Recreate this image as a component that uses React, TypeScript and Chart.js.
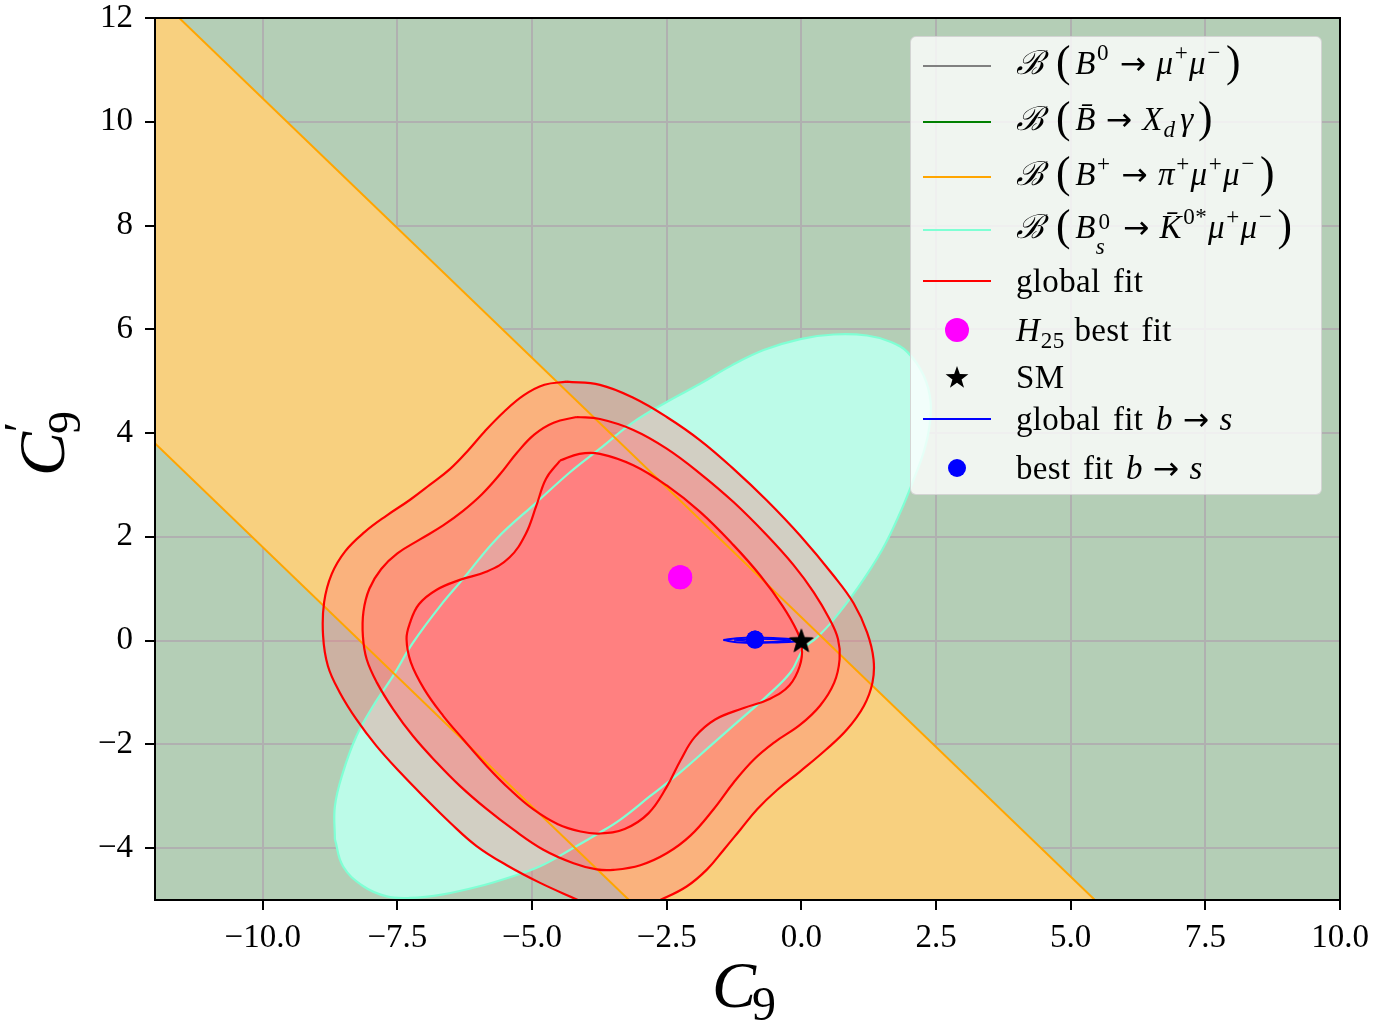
import React, { useEffect, useRef } from "react";
import { Chart, registerables } from "chart.js";

Chart.register(...registerables);

// ---- axes -------------------------------------------------------------
const X_MIN = -12;
const X_MAX = 10;
const Y_MIN = -5;
const Y_MAX = 12;
const xTickValues = [-10, -7.5, -5, -2.5, 0, 2.5, 5, 7.5, 10];
const yTickValues = [-4, -2, 0, 2, 4, 6, 8, 10, 12];

// ---- B+ -> pi+ mu+ mu- allowed band (straight edges, clipped by the axes)
const bandUpperEdge: [number, number][] = [[-13, 13.45], [6, -5.55]];
const bandLowerEdge: [number, number][] = [[-2.5, -5.7], [-21.7, 13.5]];

// ---- Bs0 -> K0* mu+ mu- allowed region ---------------------------------
const bsKmumuRegion: [number, number][] = [
  [-8.66, -3.83], [-8.66, -3.19], [-8.51, -2.54], [-8.26, -1.84], [-7.95, -1.26],
  [-7.58, -0.68], [-7.21, -0.04], [-6.65, 0.74], [-6.28, 1.19], [-5.66, 1.96],
  [-4.91, 2.67], [-4.29, 3.25], [-3.74, 3.7], [-3.12, 4.21], [-2.5, 4.6],
  [-1.88, 4.95], [-1.3, 5.3], [-0.7, 5.6], [-0.02, 5.81], [0.6, 5.9],
  [1.22, 5.88], [1.65, 5.76], [1.97, 5.56], [2.27, 5.11], [2.4, 4.6],
  [2.37, 4.08], [2.27, 3.63], [2.09, 3.12], [1.84, 2.48], [1.5, 1.75],
  [1.05, 1.02], [0.58, 0.38], [0.29, 0.06], [0.04, -0.16], [-0.2, -0.61],
  [-0.64, -1.07], [-1.13, -1.52], [-1.69, -2.03], [-2.25, -2.54], [-2.81, -3.0],
  [-3.36, -3.45], [-3.74, -3.7], [-4.29, -4.03], [-4.85, -4.35], [-5.41, -4.56],
  [-6.03, -4.75], [-6.65, -4.89], [-7.27, -4.96], [-7.7, -4.93], [-8.14, -4.73],
  [-8.51, -4.35],
];

// ---- global fit confidence contours (outer, middle, inner) -----------
const globalFitOuter: [number, number][] = [
  [-4.36, 4.99], [-3.74, 4.93], [-3.12, 4.68], [-2.5, 4.31], [-1.88, 3.86],
  [-1.26, 3.31], [-0.64, 2.7], [-0.02, 2.02], [0.6, 1.25], [0.97, 0.72],
  [1.22, 0.16], [1.34, -0.36], [1.32, -0.81], [1.16, -1.26], [0.85, -1.71],
  [0.46, -2.1], [-0.02, -2.52], [-0.45, -2.88], [-0.82, -3.25], [-1.13, -3.64],
  [-1.44, -4.03], [-1.75, -4.41], [-2.13, -4.74], [-2.62, -5.0], [-2.99, -5.16],
  [-3.4, -5.24], [-3.81, -5.16], [-4.17, -4.99], [-4.85, -4.67], [-5.47, -4.33],
  [-6.03, -3.96], [-6.52, -3.51], [-7.02, -3.0], [-7.45, -2.54], [-7.89, -2.03],
  [-8.26, -1.52], [-8.57, -1.0], [-8.79, -0.49], [-8.88, 0.1], [-8.86, 0.74],
  [-8.72, 1.28], [-8.47, 1.72], [-8.11, 2.09], [-7.7, 2.41], [-7.27, 2.71],
  [-6.9, 3.0], [-6.52, 3.31], [-6.2, 3.65], [-5.88, 4.03], [-5.52, 4.41],
  [-5.15, 4.73], [-4.77, 4.93],
];
const globalFitMiddle: [number, number][] = [
  [-4.17, 4.31], [-3.74, 4.27], [-3.12, 4.06], [-2.5, 3.7], [-1.88, 3.22],
  [-1.26, 2.67], [-0.64, 2.03], [-0.14, 1.45], [0.23, 0.93], [0.52, 0.42],
  [0.68, 0.03], [0.71, -0.36], [0.61, -0.81], [0.35, -1.25], [-0.02, -1.62],
  [-0.5, -1.96], [-0.89, -2.3], [-1.26, -2.74], [-1.63, -3.25], [-2.06, -3.76],
  [-2.5, -4.1], [-2.99, -4.33], [-3.49, -4.42], [-3.8, -4.41], [-4.23, -4.29],
  [-4.79, -4.03], [-5.35, -3.64], [-5.84, -3.25], [-6.34, -2.8], [-6.77, -2.35],
  [-7.21, -1.84], [-7.58, -1.32], [-7.88, -0.81], [-8.07, -0.36], [-8.14, 0.08],
  [-8.13, 0.56], [-8.02, 1.0], [-7.8, 1.38], [-7.5, 1.68], [-7.08, 1.95],
  [-6.65, 2.22], [-6.28, 2.5], [-5.93, 2.82], [-5.6, 3.2], [-5.28, 3.62],
  [-4.96, 3.97], [-4.6, 4.2],
];
const globalFitInner: [number, number][] = [
  [-4.48, 3.47], [-4.12, 3.6], [-3.74, 3.6], [-3.12, 3.38], [-2.5, 2.99],
  [-1.88, 2.48], [-1.26, 1.84], [-0.76, 1.25], [-0.35, 0.67], [-0.08, 0.18],
  [0.01, -0.12], [-0.03, -0.49], [-0.22, -0.86], [-0.58, -1.12], [-1.07, -1.3],
  [-1.6, -1.52], [-1.98, -1.86], [-2.24, -2.3], [-2.5, -2.82], [-2.84, -3.33],
  [-3.28, -3.63], [-3.76, -3.72], [-4.1, -3.68], [-4.52, -3.54], [-4.98, -3.25],
  [-5.41, -2.87], [-5.84, -2.42], [-6.28, -1.9], [-6.65, -1.45], [-7.0, -0.94],
  [-7.25, -0.42], [-7.33, 0.03], [-7.27, 0.33], [-7.1, 0.7], [-6.77, 0.98],
  [-6.34, 1.17], [-5.84, 1.33], [-5.42, 1.6], [-5.12, 2.05], [-4.92, 2.6],
  [-4.74, 3.12],
];

// ---- b -> s global fit (very narrow in C9') ----------------------------
const bsFitOuter: [number, number][] = [
  [-1.45, 0.01], [-1.2, 0.045], [-0.86, 0.06], [-0.45, 0.045], [-0.12, 0.02],
  [-0.02, 0.0], [-0.12, -0.02], [-0.45, -0.035], [-0.86, -0.045], [-1.2, -0.03],
];
const bsFitInner: [number, number][] = [
  [-1.25, 0.01], [-0.86, 0.03], [-0.4, 0.02], [-0.2, 0.0], [-0.4, -0.015],
  [-0.86, -0.025],
];

// ---- single points -----------------------------------------------------
const h25BestFit = { x: -2.25, y: 1.22 };
const bsBestFit = { x: -0.86, y: 0.02 };
const smPoint = { x: 0, y: 0 };

const COLORS = {
  plotBg: "#b4ceb6",
  band: "#f8d07f",
  bandEdge: "#ffa500",
  bsKmumu: "#bcfbe8",
  bsKmumuEdge: "#7fffd4",
  red: "#ff0000",
  outerFill: "rgba(255,118,120,0.33)",
  middleFill: "rgba(255,120,120,0.49)",
  innerFill: "rgb(255,128,128)",
  grid: "#b0b0b0",
};

const FONT = "'Liberation Serif', 'DejaVu Serif', serif";

const toPoints = (arr: [number, number][], close: boolean) => {
  const pts = arr.map(([x, y]) => ({ x, y }));
  if (close) pts.push({ ...pts[0] });
  return pts;
};

const minusFmt = (s: string) => s.replace("-", "\u2212");

function makeStar(size: number): HTMLCanvasElement {
  const c = document.createElement("canvas");
  c.width = size;
  c.height = size;
  const g = c.getContext("2d")!;
  const cx = size / 2;
  const cy = size / 2;
  const ro = size / 2;
  const ri = ro * 0.4;
  g.beginPath();
  for (let k = 0; k < 10; k++) {
    const r = k % 2 === 0 ? ro : ri;
    const a = -Math.PI / 2 + (k * Math.PI) / 5;
    const px = cx + r * Math.cos(a);
    const py = cy + r * Math.sin(a) + 1;
    if (k === 0) g.moveTo(px, py);
    else g.lineTo(px, py);
  }
  g.closePath();
  g.fillStyle = "#000";
  g.fill();
  return c;
}

const MARKER_LABELS = ["SM", "H25 best fit", "best fit b->s"];

const plotFrame = {
  id: "plotFrame",
  beforeDraw(chart: any) {
    const { ctx, chartArea: a } = chart;
    ctx.save();
    ctx.fillStyle = COLORS.plotBg;
    ctx.fillRect(a.left, a.top, a.width, a.height);
    ctx.restore();
  },
  afterDraw(chart: any) {
    // point markers sit above the grid lines
    chart.data.datasets.forEach((ds: any, i: number) => {
      if (MARKER_LABELS.includes(ds.label)) chart.getDatasetMeta(i).controller.draw();
    });
    const { ctx, chartArea: a } = chart;
    ctx.save();
    ctx.strokeStyle = "#000";
    ctx.lineWidth = 2;
    ctx.strokeRect(a.left, a.top, a.width, a.height);
    ctx.restore();
  },
};

function region(label: string, arr: [number, number][], color: string, order: number, tension = 0.4) {
  return {
    label,
    data: toPoints(arr, true),
    showLine: true,
    fill: "shape",
    backgroundColor: color,
    borderColor: "transparent",
    borderWidth: 0,
    pointRadius: 0,
    tension,
    order,
  };
}

function outline(label: string, arr: [number, number][], color: string, width: number, order: number, close = true, tension = 0.4) {
  return {
    label,
    data: toPoints(arr, close),
    showLine: true,
    fill: false,
    borderColor: color,
    borderWidth: width,
    pointRadius: 0,
    tension,
    order,
  };
}

const noPadding = (axis: any) => {
  axis.paddingTop = 0;
  axis.paddingBottom = 0;
  axis.paddingLeft = 0;
  axis.paddingRight = 0;
};

function ChartCanvas() {
  const ref = useRef<HTMLCanvasElement>(null);
  useEffect(() => {
    const star = makeStar(26);
    const bandPolygon: [number, number][] = [...bandUpperEdge, ...bandLowerEdge];
    const tickFont = { family: FONT, size: 33 };
    const gridOpts = {
      color: COLORS.grid,
      lineWidth: 2,
      drawTicks: true,
      tickLength: 10,
      tickColor: "#000",
      tickWidth: 2,
    };
    const chart = new Chart(ref.current!, {
      type: "scatter",
      data: {
        datasets: [
          region("B+ band", bandPolygon, COLORS.band, 100, 0),
          region("Bs K* region", bsKmumuRegion, COLORS.bsKmumu, 90),
          region("global fit outer", globalFitOuter, COLORS.outerFill, 80),
          region("global fit middle", globalFitMiddle, COLORS.middleFill, 79),
          region("global fit inner", globalFitInner, COLORS.innerFill, 78),
          outline("Bs K* edge", bsKmumuRegion, COLORS.bsKmumuEdge, 2.2, 70),
          outline("band upper", bandUpperEdge, COLORS.bandEdge, 2, 60, false, 0),
          outline("band lower", bandLowerEdge, COLORS.bandEdge, 2, 61, false, 0),
          outline("global fit 3", globalFitOuter, COLORS.red, 2.2, 50),
          outline("global fit 2", globalFitMiddle, COLORS.red, 2.2, 51),
          outline("global fit 1", globalFitInner, COLORS.red, 2.2, 52),
          outline("b->s outer", bsFitOuter, "#0000ff", 2, 20),
          outline("b->s inner", bsFitInner, "#0000ff", 1.5, 21),
          {
            label: "H25 best fit",
            data: [h25BestFit],
            pointRadius: 12,
            pointBackgroundColor: "#ff00ff",
            pointBorderWidth: 0,
            pointBorderColor: "transparent",
            order: 10,
          },
          {
            label: "best fit b->s",
            data: [bsBestFit],
            pointRadius: 9,
            pointBackgroundColor: "#0000ff",
            pointBorderWidth: 0,
            pointBorderColor: "transparent",
            order: 11,
          },
          {
            label: "SM",
            data: [smPoint],
            pointStyle: star,
            pointRadius: 13,
            order: 5,
          },
        ] as any,
      },
      options: {
        responsive: false,
        animation: false,
        devicePixelRatio: 1,
        events: [],
        layout: { padding: { left: 0, top: 18, right: 34, bottom: 0 } },
        plugins: { legend: { display: false }, tooltip: { enabled: false } },
        scales: {
          x: {
            type: "linear",
            min: X_MIN,
            max: X_MAX,
            z: 1,
            afterBuildTicks: (axis: any) => {
              axis.ticks = xTickValues.map((v) => ({ value: v }));
            },
            afterFit: (axis: any) => {
              axis.height = 125;
              noPadding(axis);
            },
            grid: gridOpts,
            border: { display: true, color: "#000", width: 2 },
            ticks: {
              color: "#000",
              font: tickFont,
              padding: 9,
              maxRotation: 0,
              autoSkip: false,
              callback: (v: any) => minusFmt(Number(v).toFixed(1)),
            },
          },
          y: {
            type: "linear",
            min: Y_MIN,
            max: Y_MAX,
            z: 1,
            afterBuildTicks: (axis: any) => {
              axis.ticks = yTickValues.map((v) => ({ value: v }));
            },
            afterFit: (axis: any) => {
              axis.width = 155;
              noPadding(axis);
            },
            grid: gridOpts,
            border: { display: true, color: "#000", width: 2 },
            ticks: {
              color: "#000",
              font: tickFont,
              padding: 12,
              autoSkip: false,
              callback: (v: any) => minusFmt(String(v)),
            },
          },
        },
      } as any,
      plugins: [plotFrame],
    });
    return () => chart.destroy();
  }, []);
  return <canvas ref={ref} width={1374} height={1025} style={{ position: "absolute", left: 0, top: 0 }} />;
}

// ---- math text helpers -------------------------------------------------
const I = ({ children }: { children: React.ReactNode }) => <span style={{ fontStyle: "italic" }}>{children}</span>;
const Sup = ({ children }: { children: React.ReactNode }) => (
  <span style={{ fontSize: "0.7em", position: "relative", top: "-0.62em", margin: "0 0.04em 0 0.06em" }}>{children}</span>
);
const Sub = ({ children }: { children: React.ReactNode }) => (
  <span style={{ fontSize: "0.7em", position: "relative", top: "0.3em", marginLeft: "0.03em" }}>{children}</span>
);
const SupSub = ({ sup, sub, w }: { sup: React.ReactNode; sub: React.ReactNode; w: string }) => (
  <span style={{ display: "inline-block", position: "relative", width: w, height: "1em", fontSize: "0.7em" }}>
    <span style={{ position: "absolute", left: "0.12em", top: "-0.62em" }}>{sup}</span>
    <span style={{ position: "absolute", left: 0, top: "0.5em" }}>{sub}</span>
  </span>
);
const P = ({ children }: { children: React.ReactNode }) => (
  <span style={{ fontSize: "1.32em", lineHeight: 0, position: "relative", top: "0.04em", margin: "0 0.1em" }}>{children}</span>
);
const CalB = () => (
  <span style={{ fontFamily: "'DejaVu Serif', serif", fontStyle: "italic", marginRight: "0.22em" }}>{"\u212C"}</span>
);
const Arrow = () => (
  <span style={{ fontFamily: "'DejaVu Sans', sans-serif", fontSize: "0.95em", margin: "0 0.32em" }}>{"\u2192"}</span>
);

type LegendRow = { y: number; handle: React.ReactNode; text: React.ReactNode; math?: boolean };

const lineHandle = (color: string) => (
  <div style={{ position: "absolute", left: 12, width: 68, top: -1, height: 2, background: color }} />
);
const dotHandle = (color: string, r: number) => (
  <div style={{ position: "absolute", left: 46 - r, top: -r, width: 2 * r, height: 2 * r, borderRadius: "50%", background: color }} />
);
const starHandle = (
  <svg style={{ position: "absolute", left: 34, top: -12 }} width={24} height={24} viewBox="-12 -12 24 24">
    <polygon
      fill="#000"
      points={Array.from({ length: 10 }, (_, k) => {
        const r = k % 2 === 0 ? 12 : 4.8;
        const a = -Math.PI / 2 + (k * Math.PI) / 5;
        return `${(r * Math.cos(a)).toFixed(2)},${(r * Math.sin(a) + 1).toFixed(2)}`;
      }).join(" ")}
    />
  </svg>
);

const legendRows: LegendRow[] = [
  {
    y: 29,
    math: true,
    handle: lineHandle("#808080"),
    text: (
      <>
        <CalB />
        <P>(</P>
        <I>B</I>
        <Sup>0</Sup>
        <Arrow />
        <I>μ</I>
        <Sup>+</Sup>
        <I>μ</I>
        <Sup>−</Sup>
        <P>)</P>
      </>
    ),
  },
  {
    y: 85,
    math: true,
    handle: lineHandle("#008000"),
    text: (
      <>
        <CalB />
        <P>(</P>
        <I>{"B\u0304"}</I>
        <Arrow />
        <I>X</I>
        <Sub>
          <I>d</I>
        </Sub>
        <span style={{ marginLeft: "0.15em" }}>
          <I>γ</I>
        </span>
        <P>)</P>
      </>
    ),
  },
  {
    y: 140,
    math: true,
    handle: lineHandle("#ffa500"),
    text: (
      <>
        <CalB />
        <P>(</P>
        <I>B</I>
        <Sup>+</Sup>
        <Arrow />
        <I>π</I>
        <Sup>+</Sup>
        <I>μ</I>
        <Sup>+</Sup>
        <I>μ</I>
        <Sup>−</Sup>
        <P>)</P>
      </>
    ),
  },
  {
    y: 193,
    math: true,
    handle: lineHandle("#7fffd4"),
    text: (
      <>
        <CalB />
        <P>(</P>
        <I>B</I>
        <SupSub sup="0" sub={<I>s</I>} w="0.75em" />
        <Arrow />
        <I>{"K\u0304"}</I>
        <Sup>0*</Sup>
        <I>μ</I>
        <Sup>+</Sup>
        <I>μ</I>
        <Sup>−</Sup>
        <P>)</P>
      </>
    ),
  },
  { y: 244, handle: lineHandle("#ff0000"), text: <>global fit</> },
  {
    y: 293,
    handle: dotHandle("#ff00ff", 12),
    text: (
      <>
        <I>H</I>
        <Sub>25</Sub>
        <span style={{ marginLeft: "0.3em" }}>best fit</span>
      </>
    ),
  },
  { y: 340, handle: starHandle, text: <>SM</> },
  {
    y: 382,
    handle: lineHandle("#0000ff"),
    text: (
      <>
        global fit <I>b</I>
        <Arrow />
        <I>s</I>
      </>
    ),
  },
  {
    y: 431,
    handle: dotHandle("#0000ff", 9),
    text: (
      <>
        best fit <I>b</I>
        <Arrow />
        <I>s</I>
      </>
    ),
  },
];

function Legend() {
  return (
    <div
      style={{
        position: "absolute",
        left: 910,
        top: 36,
        width: 412,
        height: 459,
        boxSizing: "border-box",
        background: "rgba(255,255,255,0.8)",
        border: "1.5px solid rgba(204,204,204,0.8)",
        borderRadius: 6,
        fontSize: 33,
        color: "#000",
      }}
    >
      {legendRows.map((row, i) => (
        <div key={i} style={{ position: "absolute", left: 0, top: row.y, width: "100%", height: 0 }}>
          {row.handle}
          <div
            style={{
              position: "absolute",
              left: 105,
              top: row.math ? -23 : -20,
              height: 40,
              lineHeight: "40px",
              whiteSpace: "nowrap",
              wordSpacing: "0.12em",
              letterSpacing: "0.01em",
            }}
          >
            {row.text}
          </div>
        </div>
      ))}
    </div>
  );
}

export default function App() {
  return (
    <div
      style={{
        position: "absolute",
        left: 0,
        top: 0,
        width: 1374,
        height: 1025,
        background: "#fff",
        fontFamily: FONT,
        overflow: "hidden",
      }}
    >
      <ChartCanvas />
      <Legend />
      {/* x-axis title */}
      <div style={{ position: "absolute", left: 712, top: 952, fontSize: 66, lineHeight: "66px", whiteSpace: "nowrap" }}>
        <I>C</I>
        <span style={{ fontSize: 48, position: "relative", top: 13, marginLeft: -4 }}>9</span>
      </div>
      {/* y-axis title */}
      <div
        style={{
          position: "absolute",
          left: 42,
          top: 440,
          transform: "translate(-50%, -50%) rotate(-90deg)",
          fontSize: 66,
          lineHeight: "66px",
          whiteSpace: "nowrap",
        }}
      >
        <I>C</I>
        <span style={{ display: "inline-block", position: "relative", width: 28, height: 50, fontSize: 46 }}>
          <span style={{ position: "absolute", left: 0, top: -26, fontStyle: "normal" }}>{"\u2032"}</span>
          <span style={{ position: "absolute", left: -2, top: 18 }}>9</span>
        </span>
      </div>
    </div>
  );
}
